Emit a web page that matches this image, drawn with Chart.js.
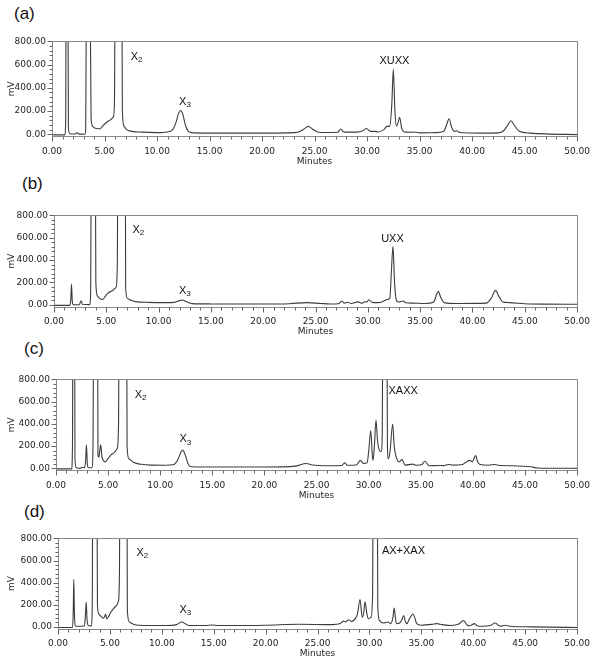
<!DOCTYPE html>
<html>
<head>
<meta charset="utf-8">
<script src="https://cdn.jsdelivr.net/npm/chart.js@4.4.1/dist/chart.umd.min.js"></script>
<style>
    body { margin: 0; background: #fff; }
    #wrap { position: relative; width: 600px; height: 665px; overflow: hidden; }
    canvas { position: absolute; left: 0; }
    .tag { position: absolute; font-family: "Liberation Sans", Arial, sans-serif; font-size: 17px; color: #111; }
</style>
</head>
<body>
<div id="wrap">
    <div class="tag" style="left:14px; top:4px;">(a)</div>
    <div class="tag" style="left:22px; top:174px;">(b)</div>
    <div class="tag" style="left:24px; top:339px;">(c)</div>
    <div class="tag" style="left:24px; top:502px;">(d)</div>
    <canvas id="chartA" width="600" height="138"></canvas>
    <canvas id="chartB" width="600" height="135"></canvas>
    <canvas id="chartC" width="600" height="134"></canvas>
    <canvas id="chartD" width="600" height="134"></canvas>
</div>
<script>
// tick labels
var minuteTicks = [0, 5, 10, 15, 20, 25, 30, 35, 40, 45, 50];
var mvTicks = [0, 200, 400, 600, 800];

// chromatograms, [minutes, mV] (peaks above 800 are cut by the axis)
var traceA = [[0, -5], [1.2, -5], [1.3, 100], [1.38, 2500], [1.48, 2500], [1.56, 60], [1.7, 5], [2.2, 2], [2.35, 15],
    [2.5, 3], [3.1, 0], [3.2, 30], [3.3, 1500], [3.6, 1500], [3.72, 150], [3.85, 70], [4.2, 50], [4.6, 48], [4.8, 70],
    [5.1, 95], [5.5, 120], [5.85, 150], [5.95, 300], [6.05, 2500], [6.6, 2500], [6.7, 200], [6.85, 70], [7.1, 40],
    [7.6, 25], [8.5, 18], [10, 14], [11.0, 20], [11.5, 40], [11.8, 100], [12.05, 180], [12.25, 205], [12.45, 175],
    [12.7, 80], [13.0, 25], [13.5, 12], [15, 10], [20, 10], [22.5, 12], [23.5, 20], [24.0, 45], [24.4, 68], [24.8, 45],
    [25.3, 20], [26, 15], [27.2, 17], [27.5, 45], [27.8, 18], [29, 18], [29.6, 30], [29.95, 50], [30.3, 25], [30.7, 25],
    [31, 20], [31.6, 40], [31.9, 68], [32.15, 70], [32.35, 250], [32.5, 560], [32.65, 200], [32.8, 70], [32.95, 100],
    [33.1, 147], [33.3, 50], [33.6, 18], [34.7, 17], [35, 12], [36.5, 14], [37.3, 25], [37.6, 90], [37.8, 133],
    [38.05, 60], [38.3, 25], [38.55, 30], [38.8, 15], [41, 10], [42.5, 12], [43.0, 30], [43.4, 80], [43.7, 116],
    [44.0, 80], [44.5, 25], [45.5, 10], [47, 3], [50, -3]];

var traceB = [[0, -5], [1.5, -5], [1.6, 40], [1.67, 186], [1.75, 30], [1.85, 0], [2.4, 0], [2.55, 30], [2.62, 34],
    [2.7, 5], [3.4, 2], [3.5, 100], [3.6, 2500], [3.9, 2500], [4.0, 200], [4.15, 80], [4.4, 55], [4.67, 49], [4.9, 75],
    [5.1, 100], [5.46, 120], [5.93, 157], [6.05, 350], [6.15, 2500], [6.78, 2500], [6.85, 150], [7.03, 57], [7.4, 38],
    [7.8, 29], [9, 22], [10.66, 20], [11.5, 22], [11.9, 35], [12.24, 43], [12.6, 30], [13.2, 11], [15, 8], [20, 7],
    [22.5, 10], [24.2, 20], [25.5, 12], [26.4, 8], [27.2, 10], [27.5, 34], [27.75, 15], [28.07, 23], [28.4, 12],
    [29.05, 26], [29.4, 14], [29.74, 28], [29.9, 25], [30.1, 46], [30.4, 22], [31.0, 20], [31.4, 28], [31.8, 46],
    [32.1, 60], [32.25, 300], [32.4, 523], [32.55, 200], [32.7, 51], [32.9, 25], [33.4, 34], [33.6, 18], [34.2, 15],
    [35.5, 12], [36.3, 25], [36.55, 90], [36.74, 120], [36.95, 70], [37.3, 20], [38.5, 12], [41.3, 15], [41.8, 60],
    [42.2, 129], [42.5, 80], [42.9, 25], [43.5, 20], [45, 10], [47, 6], [50, 5]];

var traceC = [[0, -5], [1.5, -5], [1.58, 200], [1.65, 2500], [1.75, 2500], [1.82, 80], [1.95, 5], [2.3, 0], [2.55, 10],
    [2.75, 5], [2.85, 80], [2.92, 211], [3.0, 50], [3.1, 5], [3.45, 5], [3.55, 200], [3.65, 2500], [3.95, 2500],
    [4.03, 110], [4.12, 101], [4.2, 160], [4.29, 211], [4.4, 110], [4.55, 70], [4.7, 58], [4.99, 87], [5.4, 130],
    [5.88, 179], [6.0, 400], [6.1, 2500], [6.75, 2500], [6.82, 200], [6.99, 87], [7.46, 52], [8.2, 36], [9.06, 29],
    [10.5, 28], [11.3, 35], [11.7, 80], [12.0, 150], [12.15, 165], [12.4, 120], [12.65, 45], [12.87, 17], [14, 12],
    [20, 12], [23, 20], [24.0, 43], [24.6, 30], [26, 23], [27.4, 25], [27.7, 49], [27.95, 28], [28.8, 30], [29.2, 72],
    [29.5, 45], [29.85, 50], [30.0, 150], [30.2, 341], [30.35, 120], [30.42, 72], [30.55, 200], [30.7, 434],
    [30.85, 250], [31.0, 168], [31.2, 150], [31.3, 300], [31.4, 2500], [31.7, 2500], [31.8, 200], [31.9, 87],
    [32.05, 150], [32.3, 399], [32.45, 200], [32.6, 116], [32.9, 58], [33.2, 78], [33.5, 29], [34.2, 38], [34.6, 28],
    [35.1, 35], [35.4, 64], [35.8, 23], [36.7, 26], [37.2, 24], [37.65, 35], [38.1, 29], [39.0, 35], [39.7, 72],
    [39.95, 60], [40.26, 116], [40.45, 60], [40.7, 35], [41.5, 28], [42.1, 35], [42.6, 25], [43.7, 23], [45.6, 14],
    [46.2, 3], [50, 0]];

var traceD = [[0, -6], [1.4, -6], [1.47, 150], [1.52, 430], [1.58, 120], [1.7, 5], [2.3, 6], [2.55, 10], [2.65, 120],
    [2.72, 224], [2.8, 60], [2.95, 10], [3.2, 9], [3.3, 200], [3.38, 2500], [3.7, 2500], [3.8, 200], [3.93, 116],
    [4.16, 93], [4.38, 78], [4.5, 95], [4.58, 116], [4.7, 73], [5.12, 137], [5.6, 189], [5.82, 233], [5.92, 500],
    [6.0, 2500], [6.6, 2500], [6.68, 150], [6.87, 44], [7.3, 22], [7.83, 15], [10.4, 12], [11.4, 20], [11.93, 44],
    [12.3, 25], [12.6, 12], [14.2, 12], [14.86, 17], [15.5, 12], [20, 15], [23.2, 23], [26.4, 20], [27.2, 30],
    [27.5, 52], [27.7, 45], [27.97, 64], [28.3, 49], [28.67, 81], [28.85, 120], [29.09, 247], [29.3, 87], [29.45, 130],
    [29.57, 227], [29.75, 120], [29.9, 73], [30.15, 87], [30.3, 300], [30.4, 2500], [30.7, 2500], [30.8, 200],
    [30.95, 58], [31.32, 35], [31.8, 44], [32.05, 29], [32.25, 80], [32.38, 169], [32.5, 80], [32.6, 29], [32.9, 35],
    [33.1, 60], [33.3, 102], [33.45, 50], [33.6, 29], [33.85, 73], [34.2, 116], [34.4, 70], [34.55, 29], [35.0, 15],
    [36.0, 22], [36.5, 29], [37.0, 20], [37.9, 12], [38.6, 25], [39.06, 58], [39.3, 30], [39.5, 9], [39.8, 15],
    [40.1, 29], [40.35, 12], [40.6, 6], [41.7, 15], [42.1, 35], [42.4, 15], [42.6, 6], [43.1, 15], [43.5, 6],
    [45.6, 0], [50, -6]];

// peak names: text, subscript, minutes, mV, alignment
var namesA = [['X', '2', 7.5, 670, 'left'], ['X', '3', 12.1, 282, 'left'], ['XUXX', '', 32.6, 632, 'center']];
var namesB = [['X', '2', 7.5, 671, 'left'], ['X', '3', 11.95, 128, 'left'], ['UXX', '', 32.35, 591, 'center']];
var namesC = [['X', '2', 7.55, 664, 'left'], ['X', '3', 11.85, 260, 'left'], ['XAXX', '', 31.9, 693, 'left']];
var namesD = [['X', '2', 7.55, 669, 'left'], ['X', '3', 11.7, 152, 'left'], ['AX+XAX', '', 31.2, 684, 'left']];

var tickFont = { family: 'DejaVu Sans', size: 9 };

// frame round the plot plus major/minor tick marks
var frameTicks = {
    id: 'frameTicks',
    afterDatasetsDraw: function (chart) {
        var ctx = chart.ctx, a = chart.chartArea;
        var xs = chart.scales.x, ys = chart.scales.y;
        var l = Math.round(a.left) + 0.5, r = Math.round(a.right) + 0.5;
        var t = Math.round(a.top) + 0.5, b = Math.round(a.bottom) + 0.5;
        ctx.save();
        ctx.strokeStyle = '#8a8a8a';
        ctx.lineWidth = 1;
        ctx.strokeRect(l, t, r - l, b - t);
        ctx.strokeStyle = '#666';
        ctx.beginPath();
        for (var m = 0; m <= 50; m++) {
            var px = Math.round(xs.getPixelForValue(m)) + 0.5;
            ctx.moveTo(px, b);
            ctx.lineTo(px, b + (m % 5 === 0 ? 5 : 3));
        }
        for (var v = 0; v <= 800; v += 40) {
            var py = Math.round(ys.getPixelForValue(v)) + 0.5;
            ctx.moveTo(l, py);
            ctx.lineTo(l - (v % 200 === 0 ? 5 : 3), py);
        }
        ctx.stroke();
        ctx.restore();
    }
};

var peakNames = {
    id: 'peakNames',
    afterDatasetsDraw: function (chart, args, opts) {
        var ctx = chart.ctx;
        var xs = chart.scales.x, ys = chart.scales.y;
        ctx.save();
        ctx.fillStyle = '#111';
        ctx.textBaseline = 'middle';
        opts.items.forEach(function (n) {
            var px = xs.getPixelForValue(n[2]), py = ys.getPixelForValue(n[3]);
            ctx.font = '11px "Liberation Sans", Arial, sans-serif';
            var w = ctx.measureText(n[0]).width;
            ctx.font = '8px "Liberation Sans", Arial, sans-serif';
            var ws = n[1] ? ctx.measureText(n[1]).width : 0;
            var x0 = n[4] === 'center' ? px - (w + ws) / 2 : px;
            ctx.textAlign = 'left';
            ctx.font = '11px "Liberation Sans", Arial, sans-serif';
            ctx.fillText(n[0], x0, py);
            if (n[1]) {
                ctx.font = '8px "Liberation Sans", Arial, sans-serif';
                ctx.fillText(n[1], x0 + w, py + 3);
            }
        });
        ctx.restore();
    }
};

function makePanel(id, trace, names, area) {
    var cv = document.getElementById(id);
    var top = area.top - 8;
    cv.style.top = top + 'px';
    var h = cv.height;
    var yW = area.left - 2;
    var xH = 32;
    return new Chart(cv.getContext('2d'), {
        type: 'line',
        data: {
            datasets: [{
                data: trace.map(function (p) { return { x: p[0], y: p[1] }; }),
                borderColor: '#3c3c3c',
                borderWidth: 1.1,
                pointRadius: 0,
                cubicInterpolationMode: 'monotone',
                fill: false
            }]
        },
        options: {
            responsive: false,
            animation: false,
            devicePixelRatio: 1,
            layout: {
                padding: { left: 2, top: 8, right: 600 - area.right, bottom: Math.max(0, h - (area.bottom - top) - xH) }
            },
            plugins: {
                legend: { display: false },
                tooltip: { enabled: false },
                peakNames: { items: names }
            },
            scales: {
                x: {
                    type: 'linear', min: 0, max: 50,
                    grid: { display: false, drawTicks: false },
                    border: { display: false },
                    afterBuildTicks: function (s) { s.ticks = minuteTicks.map(function (v) { return { value: v }; }); },
                    afterFit: function (s) { s.height = xH; },
                    ticks: {
                        font: tickFont, color: '#222', padding: 10, maxRotation: 0, autoSkip: false,
                        callback: function (v) { return v.toFixed(2); }
                    },
                    title: { display: true, text: 'Minutes', font: tickFont, color: '#222', padding: { top: 0, bottom: 1 } }
                },
                y: {
                    type: 'linear', min: -15, max: 800,
                    grid: { display: false, drawTicks: false },
                    border: { display: false },
                    afterBuildTicks: function (s) { s.ticks = mvTicks.map(function (v) { return { value: v }; }); },
                    afterFit: function (s) { s.width = yW; },
                    ticks: {
                        font: tickFont, color: '#222', padding: 6,
                        callback: function (v) { return v.toFixed(2); }
                    },
                    title: { display: true, text: 'mV', font: tickFont, color: '#222', padding: { top: 4, bottom: 0 } }
                }
            }
        },
        plugins: [frameTicks, peakNames]
    });
}

makePanel('chartA', traceA, namesA, { left: 52, right: 582, top: 38, bottom: 136 });
makePanel('chartB', traceB, namesB, { left: 54, right: 582, top: 212, bottom: 306.5 });
makePanel('chartC', traceC, namesC, { left: 56, right: 579, top: 376, bottom: 470 });
makePanel('chartD', traceD, namesD, { left: 58, right: 580, top: 535, bottom: 628.5 });
</script>
</body>
</html>
